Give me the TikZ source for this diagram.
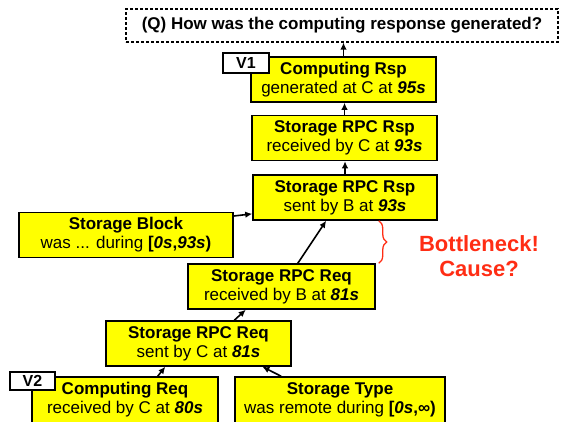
\documentclass[tikz,border=0pt]{standalone}
\usepackage{fontspec}
\setmainfont{Liberation Sans}
\usetikzlibrary{arrows.meta,calc,decorations.pathreplacing}
\definecolor{evtyellow}{RGB}{255,255,0}
\definecolor{bnred}{RGB}{255,45,20}

\begin{document}
\begin{tikzpicture}[x=1pt,y=-1pt,
  evt/.style={rectangle,draw=black,line width=1.5pt,fill=evtyellow,inner sep=0pt,minimum height=45pt,align=center,font=\fontsize{17}{19}\selectfont},
  tag/.style={rectangle,draw=black,line width=1.5pt,fill=white,inner sep=0pt,font=\bfseries\fontsize{16}{18}\selectfont},
  arr/.style={-{Latex[length=7pt,width=6.5pt]},line width=1.6pt}]
\useasboundingbox (0,0) rectangle (561,421);
%Question
\node at (342,25.5)[rectangle,draw=black,dash pattern=on 3pt off 2pt,line width=1.2pt,minimum width=432pt,minimum height=33pt,inner sep=0pt,font=\bfseries\fontsize{17}{19}\selectfont] (q) {(Q) How was the computing response generated?};
%Events
\node at (343.5,79.5)[evt,minimum width=185pt] (crsp) {\textbf{Computing Rsp}\\generated at C at \textbf{\textit{95s}}};
\node at (344.5,138)[evt,minimum width=185pt] (recvc) {\textbf{Storage RPC Rsp}\\received by C at \textbf{\textit{93s}}};
\node at (345,197.5)[evt,minimum width=184pt] (sentb) {\textbf{Storage RPC Rsp}\\sent by B at \textbf{\textit{93s}}};
\node at (126,235)[evt,minimum width=214pt] (blk) {\textbf{Storage Block}\\was ... during \textbf{[\textit{0s},\textit{93s})}};
\node at (281.5,286.5)[evt,minimum width=187pt] (recvb) {\textbf{Storage RPC Req}\\received by B at \textbf{\textit{81s}}};
\node at (198.5,343.5)[evt,minimum width=185pt] (sentc) {\textbf{Storage RPC Req}\\sent by C at \textbf{\textit{81s}}};
\node at (125,400)[evt,minimum width=186pt,minimum height=46pt] (creq) {\textbf{Computing Req}\\received by C at \textbf{\textit{80s}}};
\node at (340,400)[evt,minimum width=210pt,minimum height=46pt] (stype) {\textbf{Storage Type}\\was remote during \textbf{[\textit{0s},∞)}};
%Tags
\node at (246,63)[tag,minimum width=46pt,minimum height=20pt] (v1) {V1};
\node at (32.5,381)[tag,minimum width=45pt,minimum height=18pt] (v2) {V2};
%Edges
\draw[arr] (crsp.north) -- (crsp.north |- q.south);
\draw[arr] (recvc.north) -- (recvc.north |- crsp.south);
\draw[arr] (sentb.north) -- (sentb.north |- recvc.south);
\draw[arr] (blk.10) -- (sentb.190);
\draw[arr] (recvb.55) -- (sentb.231);
\draw[arr] (sentc.33) -- (recvb.213);
\draw[arr] (creq.36) -- (sentc.215);
\draw[arr] (stype.158) -- (sentc.-20);
%Bottleneck
\coordinate (bt) at ($(recvb.east |- sentb.south)+(3,0)$);
\coordinate (bb) at ($(recvb.north east)+(3,0)$);
\draw[bnred,line width=1.3pt,decorate,decoration={brace,amplitude=8pt}] (bt) -- (bb);
\node at (479,256)[text=bnred,align=center,font=\bfseries\fontsize{22}{25}\selectfont] (bn) {Bottleneck!\\Cause?};
\end{tikzpicture}
\end{document}
